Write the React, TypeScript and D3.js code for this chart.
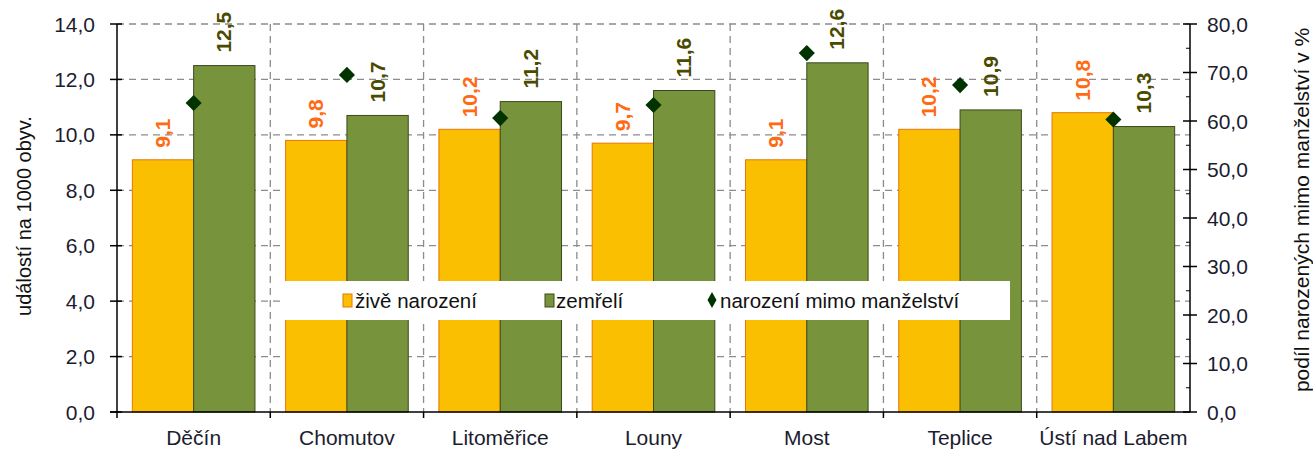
import React from 'react';
import * as d3 from 'd3';

// okresy Ústeckého kraje
const districts = ['Děčín', 'Chomutov', 'Litoměřice', 'Louny', 'Most', 'Teplice', 'Ústí nad Labem'];
// živě narození na 1000 obyv.
const births = [9.1, 9.8, 10.2, 9.7, 9.1, 10.2, 10.8];
// zemřelí na 1000 obyv.
const deaths = [12.5, 10.7, 11.2, 11.6, 12.6, 10.9, 10.3];
// podíl narozených mimo manželství v %
const outOfWedlock = [63.7, 69.5, 60.6, 63.3, 74.0, 67.4, 60.3];

const leftTicks = [0, 2, 4, 6, 8, 10, 12, 14];
const rightTicks = [0, 10, 20, 30, 40, 50, 60, 70, 80];

const W = 1313;
const H = 449;
const left = 117;
const right = 1190;
const top = 24;
const bottom = 412;

const font = 'Liberation Sans, Arial, sans-serif';
const fmt = (v: number) => d3.format('.1f')(v).replace('.', ',');

const App = () => {
  const x = d3.scaleBand().domain(districts).range([left, right]);
  const sub = d3.scaleBand().domain(['b', 'd']).range([0, x.bandwidth()]).paddingOuter(0.25);
  const y = d3.scaleLinear().domain([0, 14]).range([bottom, top]);
  const y2 = d3.scaleLinear().domain([0, 80]).range([bottom, top]);
  const diamond = d3.symbol().type(d3.symbolSquare).size(130)();

  // vertical separators between categories
  const seps = districts.slice(1).map(d => x(d) as number);

  return (
    <svg width={W} height={H} style={{ position: 'absolute', left: 0, top: 0, background: '#fff' }}
      fontFamily={font}>
      {/* grid */}
      {leftTicks.slice(1).map(t => (
        <line key={'h' + t} x1={left} x2={right} y1={y(t)} y2={y(t)}
          stroke="#8c8c8c" strokeWidth={1.3} strokeDasharray="7,5" />
      ))}
      {seps.map((s, i) => (
        <line key={'v' + i} x1={s} x2={s} y1={top} y2={bottom}
          stroke="#8c8c8c" strokeWidth={1.3} strokeDasharray="7,5" />
      ))}

      {/* bars */}
      {districts.map((d, i) => {
        const x0 = x(d) as number;
        const bx = x0 + (sub('b') as number);
        const dx = x0 + (sub('d') as number);
        const bw = sub.bandwidth();
        return (
          <g key={d}>
            <rect x={bx} y={y(births[i])} width={bw} height={bottom - y(births[i])}
              fill="#f9bf00" stroke="#e8750a" strokeWidth={1} />
            <rect x={dx} y={y(deaths[i])} width={bw} height={bottom - y(deaths[i])}
              fill="#77933c" stroke="#3b4a1c" strokeWidth={1} />
            <text transform={`translate(${bx + bw / 2 + 7},${y(births[i]) - 12}) rotate(-90)`}
              fontSize={21} fontWeight="bold" fill="#ff6a13">{fmt(births[i])}</text>
            <text transform={`translate(${dx + bw / 2 + 7},${y(deaths[i]) - 13}) rotate(-90)`}
              fontSize={21} fontWeight="bold" fill="#4a4a00">{fmt(deaths[i])}</text>
          </g>
        );
      })}

      {/* legend */}
      <rect x={283} y={281} width={727} height={39} fill="#fff" />
      <rect x={343} y={294} width={9} height={13} fill="#f9bf00" stroke="#e8750a" />
      <text x={355} y={308} fontSize={20.5} fill="#111">živě narození</text>
      <rect x={545} y={294} width={9} height={13} fill="#77933c" stroke="#3b4a1c" />
      <text x={556} y={308} fontSize={20.5} fill="#111">zemřelí</text>
      <path d="M0,-8L4.5,0L0,8L-4.5,0Z" transform="translate(712,300)" fill="#003300" />
      <text x={720} y={308} fontSize={20.5} fill="#111">narození mimo manželství</text>

      {/* diamonds - secondary axis */}
      {districts.map((d, i) => (
        <path key={'m' + d} d={diamond as string} fill="#003300"
          transform={`translate(${(x(d) as number) + x.bandwidth() / 2},${y2(outOfWedlock[i])}) rotate(45)`} />
      ))}

      {/* left axis */}
      <line x1={left} x2={left} y1={top} y2={bottom} stroke="#000" strokeWidth={1.5} />
      {leftTicks.map(t => (
        <g key={'lt' + t}>
          <line x1={left - 7} x2={left + 5} y1={y(t)} y2={y(t)} stroke="#000" strokeWidth={1.5} />
          <text x={95} y={y(t)} dy="0.36em" textAnchor="end" fontSize={21} fill="#1c1c30">{fmt(t)}</text>
        </g>
      ))}
      {/* right axis */}
      <line x1={right} x2={right} y1={top} y2={bottom} stroke="#000" strokeWidth={1.5} />
      {rightTicks.map(t => (
        <g key={'rt' + t}>
          <line x1={right - 7} x2={right + 7} y1={y2(t)} y2={y2(t)} stroke="#000" strokeWidth={1.5} />
          <text x={1207} y={y2(t)} dy="0.36em" fontSize={21} fill="#1c1c30">{fmt(t)}</text>
          {t < 80 && (
            <line x1={right - 4} x2={right} y1={y2(t + 5)} y2={y2(t + 5)} stroke="#000" strokeWidth={1} />
          )}
        </g>
      ))}
      {/* bottom axis */}
      <line x1={left - 7} x2={right} y1={bottom} y2={bottom} stroke="#000" strokeWidth={1.5} />
      {districts.map(d => (
        <g key={'c' + d}>
          <line x1={x(d) as number} x2={x(d) as number} y1={bottom} y2={bottom + 6} stroke="#000" strokeWidth={1.5} />
          <text x={(x(d) as number) + x.bandwidth() / 2} y={445} textAnchor="middle" fontSize={21} fill="#1c1c30">{d}</text>
        </g>
      ))}

      {/* axis titles */}
      <text transform="translate(31,216) rotate(-90)" textAnchor="middle" fontSize={20} fill="#111">událostí na 1000 obyv.</text>
      <text transform="translate(1309,210) rotate(-90)" textAnchor="middle" fontSize={21} fill="#111">podíl narozených mimo manželství v %</text>
    </svg>
  );
};

export default App;
